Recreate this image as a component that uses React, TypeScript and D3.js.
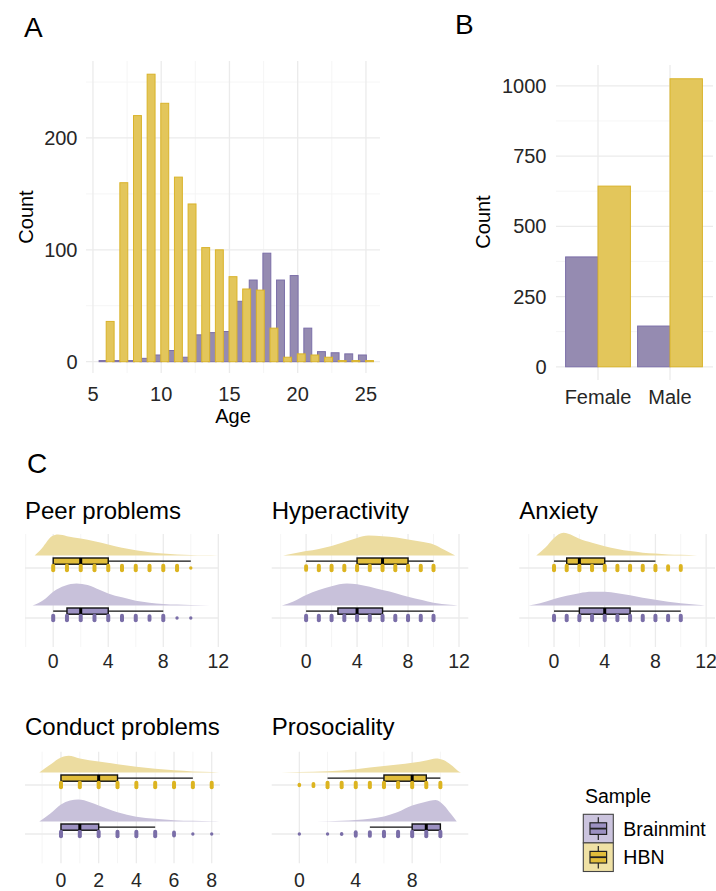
import React from "react";
import * as d3 from "d3";

const W = 716;
const H = 891;
const FONT = "'Liberation Sans', Arial, Helvetica, sans-serif";

// ---------- Panel A: age histogram ----------
const ages = [6, 7, 8, 9, 10, 11, 12, 13, 14, 15, 16, 17, 18, 19, 20, 21, 22, 23, 24, 25];
const hbnAgeCounts = [36, 160, 220, 257, 231, 165, 141, 102, 100, 76, 65, 64, 30, 4, 7, 6, 4, 1, 1, 1];
const brainmintAgeCounts = [1, 1, 1, 3, 6, 10, 4, 24, 26, 27, 54, 73, 97, 73, 77, 30, 9, 8, 7, 6];
const ageTicks = [5, 10, 15, 20, 25];
const ageCountTicks = [0, 100, 200];

// ---------- Panel B: sex bars ----------
const sexes = ["Female", "Male"];
const brainmintSexCounts = [391, 145];
const hbnSexCounts = [643, 1025];
const sexCountTicks = [0, 250, 500, 750, 1000];

// ---------- Panel C: SDQ raincloud ----------
const scaleNames = ["Peer problems", "Hyperactivity", "Anxiety", "Conduct problems", "Prosociality"];
const scaleTicks = [[0, 4, 8, 12], [0, 4, 8, 12], [0, 4, 8, 12], [0, 2, 4, 6, 8], [0, 4, 8]];
// [min, q1, median, q3, max]
const hbnBoxStats = [[0, 0, 2, 4, 10], [0, 4, 6, 8, 10], [0, 1, 2, 4, 8], [0, 0, 2, 3, 7], [2, 6, 8, 9, 10]];
const brainmintBoxStats = [[0, 1, 2, 4, 8], [0, 2.5, 4, 6, 10], [0, 2, 4, 6, 10], [0, 0, 1, 2, 5], [5, 8, 9, 10, 10]];
// vertical spread of the jittered points at each integer score (0..max)
const hbnDotSpread = [
  [1, 1, 1, 1, 1, 1, 1, 1, 1, 1, 0.4],
  [0.9, 1, 1, 1, 1, 1, 1, 1, 1, 1, 1],
  [1, 1, 1, 1, 1, 1, 1, 1, 1, 0.85, 0.95],
  [1, 1, 1, 1, 1, 1, 1, 1, 1],
  [0.5, 0.7, 1, 1, 1, 1, 1, 1, 1, 1, 1],
];
const brainmintDotSpread = [
  [1, 1, 1, 1, 1, 1, 1, 0.9, 1, 0.4, 0.35],
  [1, 1, 1, 1, 1, 1, 1, 1, 1, 1, 1],
  [1, 1, 1, 1, 1, 1, 1, 1, 1, 1, 1],
  [1, 1, 1, 1, 1, 1, 0.8, 0.35, 0.35],
  [0.4, 0, 0.35, 0.45, 0.85, 0.9, 1, 1, 1, 1, 1],
];
// density slabs: [score, relative height]
const hbnDensity: number[][][] = [
  [[-1.35, 0], [-1, 0.2], [-0.7, 0.42], [-0.1, 0.87], [0.35, 0.95], [1, 0.88], [2, 0.77], [3, 0.65], [4, 0.5], [5, 0.35], [6, 0.24], [7, 0.15], [8, 0.09], [9, 0.05], [10, 0.02], [11, 0.01], [12, 0]],
  [[-1.8, 0], [-1, 0.09], [0, 0.2], [1, 0.3], [2, 0.43], [3, 0.61], [4, 0.8], [4.9, 0.91], [6, 0.88], [7.1, 0.82], [8, 0.73], [9.2, 0.61], [10, 0.5], [10.8, 0.27], [11.4, 0.09], [11.7, 0]],
  [[-1.4, 0], [-0.7, 0.35], [0, 0.8], [0.74, 1.03], [1.5, 0.9], [2, 0.76], [3, 0.58], [4, 0.42], [5, 0.3], [6, 0.2], [7, 0.13], [8, 0.09], [9, 0.05], [10, 0.03], [11.3, 0]],
  [[-1.15, 0], [-0.58, 0.35], [0, 0.68], [0.4, 0.76], [1, 0.64], [2, 0.5], [3, 0.38], [4, 0.26], [5, 0.17], [6, 0.1], [7, 0.05], [8, 0.02], [8.4, 0]],
  [[-1.3, 0], [0, 0.02], [2, 0.06], [4, 0.15], [6, 0.29], [8, 0.44], [9.07, 0.56], [9.67, 0.64], [10.26, 0.56], [10.86, 0.29], [11.33, 0.03], [11.45, 0]],
];
const brainmintDensity: number[][][] = [
  [[-1.5, 0], [-0.7, 0.25], [0, 0.63], [0.85, 0.9], [1.7, 1], [2.5, 0.93], [3.4, 0.7], [4, 0.55], [5, 0.37], [6, 0.22], [7, 0.13], [8, 0.07], [9, 0.04], [10, 0.02], [11.4, 0]],
  [[-1.9, 0], [-1, 0.18], [0, 0.48], [1, 0.7], [2, 0.88], [3.2, 1], [4, 0.97], [5, 0.85], [6, 0.7], [7.1, 0.55], [8, 0.4], [9.1, 0.25], [10, 0.13], [11.3, 0.03], [11.9, 0]],
  [[-2, 0], [-1.1, 0.1], [0, 0.29], [1, 0.44], [2, 0.56], [3, 0.62], [4, 0.62], [5, 0.56], [6, 0.47], [7, 0.35], [8, 0.26], [9, 0.17], [10, 0.1], [11.3, 0.03], [11.9, 0]],
  [[-1.15, 0], [-0.58, 0.35], [0, 0.77], [0.48, 0.95], [0.92, 1], [1.54, 0.88], [2, 0.73], [3, 0.42], [4, 0.22], [5, 0.12], [6, 0.06], [7, 0.03], [8, 0.01], [8.4, 0]],
  [[1.2, 0], [3, 0.03], [4, 0.07], [5, 0.13], [6, 0.23], [6.94, 0.42], [8, 0.73], [8.84, 0.88], [9.67, 0.98], [10.26, 0.73], [10.74, 0.35], [11.16, 0]],
];
const samples = ["Brainmint", "HBN"];

// ---------- styling ----------
const PURPLE = { bar: "#958bb1", stroke: "#7b6ea8", dens: "#c8c1da", box: "#9c91c2", dot: "#7a6ea8", key: "#cbc4de" };
const YELLOW = { bar: "#e3c65b", stroke: "#d9b32a", dens: "#ecdca0", box: "#e1bd3b", dot: "#dcb420", key: "#efe1a5" };
const GRID = "#ebebeb";
const GRID_MINOR = "#f4f4f4";
const TICK = "#262626";

// facet layout
const facetLayout = [
  { x0: 25, x1: 219, d0: -2.05, d1: 12.05, row: 0 },
  { x0: 271.7, x1: 468.3, d0: -2.7, d1: 12.73, row: 0 },
  { x0: 519.3, x1: 715, d0: -2.74, d1: 12.7, row: 0 },
  { x0: 25, x1: 220, d0: -1.91, d1: 8.44, row: 1 },
  { x0: 271.7, x1: 468.3, d0: -1.96, d1: 11.98, row: 1 },
];
const rowLayout = [
  { title: 519, top: 534, bottom: 647, yHbn: 568, yBrain: 618, tick: 668 },
  { title: 735, top: 751.7, bottom: 863.3, yHbn: 785, yBrain: 834, tick: 887 },
];

function PanelA() {
  const x = d3.scaleLinear().domain([4.49, 26.03]).range([86, 380]);
  const y = d3.scaleLinear().domain([-10.1, 268.8]).range([373, 61]);
  const minorX = [7.5, 12.5, 17.5, 22.5];
  const minorY = [50, 150, 250];
  return (
    <g>
      {minorX.map((v) => (
        <line key={"mx" + v} x1={x(v)} x2={x(v)} y1={61} y2={373} stroke={GRID_MINOR} strokeWidth={0.9} />
      ))}
      {minorY.map((v) => (
        <line key={"my" + v} x1={86} x2={380} y1={y(v)} y2={y(v)} stroke={GRID_MINOR} strokeWidth={0.9} />
      ))}
      {ageTicks.map((v) => (
        <line key={"gx" + v} x1={x(v)} x2={x(v)} y1={61} y2={373} stroke={GRID} strokeWidth={1.3} />
      ))}
      {ageCountTicks.map((v) => (
        <line key={"gy" + v} x1={86} x2={380} y1={y(v)} y2={y(v)} stroke={GRID} strokeWidth={1.3} />
      ))}
      {ages.map((a, i) => (
        <rect key={"pb" + a} x={x(a - 0.55)} width={x(a + 0.03) - x(a - 0.55)} y={y(brainmintAgeCounts[i])}
          height={y(0) - y(brainmintAgeCounts[i])} fill={PURPLE.bar} stroke={PURPLE.stroke} strokeWidth={1} />
      ))}
      {ages.map((a, i) => (
        <rect key={"yb" + a} x={x(a - 0.03)} width={x(a + 0.55) - x(a - 0.03)} y={y(hbnAgeCounts[i])}
          height={y(0) - y(hbnAgeCounts[i])} fill={YELLOW.bar} stroke={YELLOW.stroke} strokeWidth={1} />
      ))}
      {ageTicks.map((v) => (
        <text key={"tx" + v} x={x(v)} y={401} textAnchor="middle" fontSize={20} fill={TICK}>{v}</text>
      ))}
      {ageCountTicks.map((v) => (
        <text key={"ty" + v} x={77.5} y={y(v)} dy="0.36em" textAnchor="end" fontSize={20} fill={TICK}>{v}</text>
      ))}
      <text x={233} y={423} textAnchor="middle" fontSize={20} fill="#000">Age</text>
      <text transform={`translate(33,217) rotate(-90)`} textAnchor="middle" fontSize={20} fill="#000">Count</text>
      <text x={24} y={36.5} fontSize={28} fill="#000">A</text>
    </g>
  );
}

function PanelB() {
  const x = d3.scaleBand<string>().domain(sexes).range([562, 706]).padding(0);
  const y = d3.scaleLinear().domain([-47, 1074]).range([380, 65]);
  const half = (x.bandwidth() * 0.9) / 2;
  const minorY = [125, 375, 625, 875];
  return (
    <g>
      {minorY.map((v) => (
        <line key={"my" + v} x1={556} x2={713} y1={y(v)} y2={y(v)} stroke={GRID_MINOR} strokeWidth={0.9} />
      ))}
      {sexCountTicks.map((v) => (
        <line key={"gy" + v} x1={556} x2={713} y1={y(v)} y2={y(v)} stroke={GRID} strokeWidth={1.3} />
      ))}
      {sexes.map((s) => {
        const c = (x(s) as number) + x.bandwidth() / 2;
        return <line key={"gx" + s} x1={c} x2={c} y1={65} y2={380} stroke={GRID} strokeWidth={1.3} />;
      })}
      {sexes.map((s, i) => {
        const c = (x(s) as number) + x.bandwidth() / 2;
        return (
          <g key={"b" + s}>
            <rect x={c - half} width={half} y={y(brainmintSexCounts[i])} height={y(0) - y(brainmintSexCounts[i])}
              fill={PURPLE.bar} stroke={PURPLE.stroke} strokeWidth={1} />
            <rect x={c} width={half} y={y(hbnSexCounts[i])} height={y(0) - y(hbnSexCounts[i])}
              fill={YELLOW.bar} stroke={YELLOW.stroke} strokeWidth={1} />
          </g>
        );
      })}
      {sexCountTicks.map((v) => (
        <text key={"ty" + v} x={546.5} y={y(v)} dy="0.36em" textAnchor="end" fontSize={20} fill={TICK}>{v}</text>
      ))}
      {sexes.map((s) => (
        <text key={"tx" + s} x={(x(s) as number) + x.bandwidth() / 2} y={404} textAnchor="middle" fontSize={20} fill={TICK}>{s}</text>
      ))}
      <text transform={`translate(490,222) rotate(-90)`} textAnchor="middle" fontSize={20} fill="#000">Count</text>
      <text x={455} y={34} fontSize={28} fill="#000">B</text>
    </g>
  );
}

function Group({ x, y0, box, spread, dens, col }: any) {
  const hScale = d3.scaleLinear().domain([0, 1]).range([0, 22]);
  const base = y0 - 12.5;
  const area = d3.area<number[]>()
    .x((d) => x(d[0]))
    .y0(base)
    .y1((d) => base - hScale(d[1]))
    .curve(d3.curveMonotoneX);
  const bTop = y0 - 10;
  const bBot = y0 - 3.8;
  const bMid = (bTop + bBot) / 2;
  return (
    <g>
      <path d={area(dens) || ""} fill={col.dens} />
      <line x1={x(box[0])} x2={x(box[1])} y1={bMid} y2={bMid} stroke="#111" strokeWidth={1.3} />
      <line x1={x(box[3])} x2={x(box[4])} y1={bMid} y2={bMid} stroke="#111" strokeWidth={1.3} />
      <rect x={x(box[1])} width={x(box[3]) - x(box[1])} y={bTop} height={bBot - bTop} fill={col.box} stroke="#111" strokeWidth={1.4} />
      <line x1={x(box[2])} x2={x(box[2])} y1={bTop} y2={bBot} stroke="#000" strokeWidth={3} />
      {spread.map((s: number, v: number) => {
        if (s <= 0) return null;
        const w = 3 + 1.0 * s;
        const h = Math.max(w, 8.6 * s);
        return <rect key={v} x={x(v) - w / 2} y={y0 - h / 2} width={w} height={h} rx={w / 2} ry={w / 2} fill={col.dot} />;
      })}
    </g>
  );
}

function Facet({ i }: { i: number }) {
  const f = facetLayout[i];
  const r = rowLayout[f.row];
  const x = d3.scaleLinear().domain([f.d0, f.d1]).range([f.x0, f.x1]);
  const ticks = scaleTicks[i];
  const step = ticks[1] - ticks[0];
  const minor: number[] = [];
  for (let t = ticks[0] - step / 2; t <= f.d1; t += step) if (t >= f.d0) minor.push(t);
  return (
    <g>
      <text x={f.x0} y={r.title} fontSize={24} fill="#000">{scaleNames[i]}</text>
      {minor.map((v) => (
        <line key={"mn" + v} x1={x(v)} x2={x(v)} y1={r.top} y2={r.bottom} stroke={GRID_MINOR} strokeWidth={0.9} />
      ))}
      {ticks.map((v) => (
        <line key={"mj" + v} x1={x(v)} x2={x(v)} y1={r.top} y2={r.bottom} stroke={GRID} strokeWidth={1.3} />
      ))}
      {[r.yHbn, r.yBrain].map((yy) => (
        <line key={"h" + yy} x1={f.x0} x2={f.x1} y1={yy} y2={yy} stroke={GRID} strokeWidth={1.3} />
      ))}
      <Group x={x} y0={r.yHbn} box={hbnBoxStats[i]} spread={hbnDotSpread[i]} dens={hbnDensity[i]} col={YELLOW} />
      <Group x={x} y0={r.yBrain} box={brainmintBoxStats[i]} spread={brainmintDotSpread[i]} dens={brainmintDensity[i]} col={PURPLE} />
      {ticks.map((v) => (
        <text key={"t" + v} x={x(v)} y={r.tick} textAnchor="middle" fontSize={19.5} fill={TICK}>{v}</text>
      ))}
    </g>
  );
}

function Legend() {
  const kx = 583.3;
  const kw = 30;
  const kh = 28.6;
  const ky = [814.3, 842.9];
  const cols = [PURPLE, YELLOW];
  return (
    <g>
      <text x={585} y={803} fontSize={19.5} fill="#000">Sample</text>
      {samples.map((s, i) => {
        const top = ky[i];
        const cx = kx + kw / 2;
        const cy = top + kh / 2;
        return (
          <g key={s}>
            <rect x={kx} y={top} width={kw} height={kh} fill={cols[i].key} stroke="#444" strokeWidth={1.1} />
            <line x1={cx} x2={cx} y1={top + 3} y2={top + kh - 3} stroke="#222" strokeWidth={1.2} />
            <rect x={cx - 8.3} y={cy - 5.8} width={16.6} height={11.6} fill={cols[i].box} stroke="#222" strokeWidth={1.2} />
            <line x1={cx - 8.3} x2={cx + 8.3} y1={cy} y2={cy} stroke="#222" strokeWidth={1.8} />
            <text x={623.3} y={cy} dy="0.36em" fontSize={19.5} fill="#000">{s}</text>
          </g>
        );
      })}
    </g>
  );
}

export default function App() {
  return (
    <div style={{ position: "absolute", left: 0, top: 0 }}>
      <svg width={W} height={H} viewBox={`0 0 ${W} ${H}`} style={{ display: "block", background: "#fff", fontFamily: FONT }}>
        <rect x={0} y={0} width={W} height={H} fill="#fff" />
        <PanelA />
        <PanelB />
        <text x={27} y={473} fontSize={28} fill="#000">C</text>
        {scaleNames.map((_, i) => (
          <Facet key={i} i={i} />
        ))}
        <Legend />
      </svg>
    </div>
  );
}
